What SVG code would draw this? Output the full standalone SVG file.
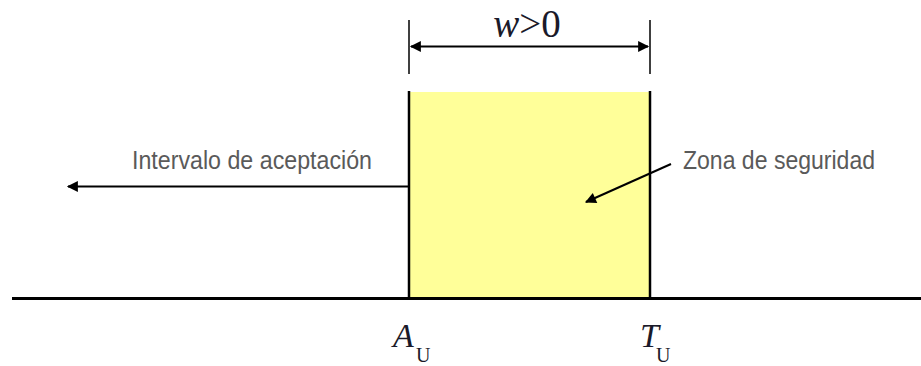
<svg xmlns="http://www.w3.org/2000/svg" width="921" height="366" viewBox="0 0 921 366">
<style>
.ln{stroke:#000;fill:none}
.lbl{font-family:"Liberation Sans",Arial,sans-serif;font-size:26px;fill:#5a5a5a}
.math{font-family:"Liberation Serif","Times New Roman",serif;fill:#1a1a2a}
</style>
<defs>
<marker id="ahb" viewBox="0 0 10 10" refX="9" refY="5" markerWidth="16" markerHeight="11" markerUnits="userSpaceOnUse" orient="auto-start-reverse">
<path d="M0,0 L10,5 L0,10 Z" fill="#000"/>
</marker>
</defs>
<rect width="921" height="366" fill="#fff"/>
<g id="zona">
<rect x="409" y="92" width="241" height="206" fill="#ffff99"/>
<line class="ln" x1="409" y1="91" x2="409" y2="298" stroke-width="2.5"/>
<line class="ln" x1="650" y1="91" x2="650" y2="298" stroke-width="2.5"/>
</g>
<g id="baseline">
<line class="ln" x1="12" y1="298.5" x2="921" y2="298.5" stroke-width="3"/>
</g>
<g id="dimension">
<line class="ln" x1="409" y1="20" x2="409" y2="74" stroke-width="1.5"/>
<line class="ln" x1="650" y1="20" x2="650" y2="74" stroke-width="1.5"/>
<text class="math" x="527" y="37" font-size="39" text-anchor="middle"><tspan font-style="italic">w</tspan>&gt;0</text>
</g>
<g id="connectors">
<line class="ln" x1="411" y1="46.5" x2="648" y2="46.5" stroke-width="2" marker-start="url(#ahb)" marker-end="url(#ahb)"/>
<line class="ln" x1="409" y1="186.5" x2="68" y2="186.5" stroke-width="2" marker-end="url(#ahb)"/>
<line class="ln" x1="671" y1="164" x2="586" y2="202" stroke-width="2" marker-end="url(#ahb)"/>
</g>
<g id="label-intervalo">
<text class="lbl" x="132" y="169" textLength="240" lengthAdjust="spacingAndGlyphs">Intervalo de aceptación</text>
</g>
<g id="label-zona">
<text class="lbl" x="683" y="169" textLength="192" lengthAdjust="spacingAndGlyphs">Zona de seguridad</text>
</g>
<g id="label-AU">
<text class="math" x="393" y="347" font-size="34" font-style="italic">A</text>
<text class="math" x="416" y="362" font-size="20" fill="#3a2a6a">U</text>
</g>
<g id="label-TU">
<text class="math" x="640" y="347" font-size="34" font-style="italic">T</text>
<text class="math" x="656" y="362" font-size="20" fill="#3a2a6a">U</text>
</g>
</svg>
